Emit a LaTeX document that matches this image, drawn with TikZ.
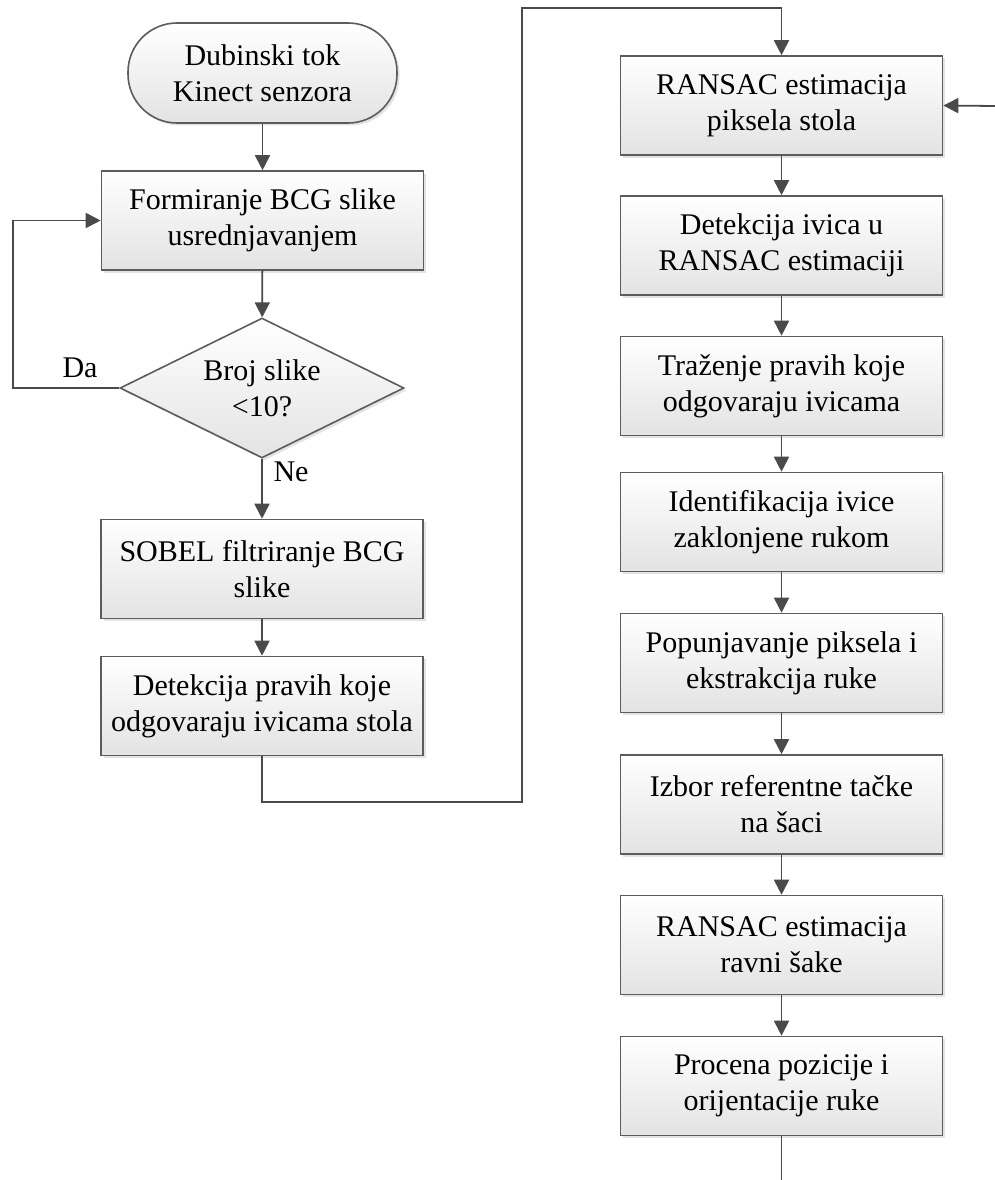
\documentclass[tikz,border=0pt]{standalone}
\usepackage{fontspec}
\setmainfont{Liberation Serif}
\usetikzlibrary{arrows.meta,shapes.geometric,shadows}
\definecolor{ln}{HTML}{4A4A4A}
\definecolor{bd}{HTML}{5C5C5C}
\begin{document}
\begin{tikzpicture}[x=1pt,y=-1pt,
  base/.style={draw=bd, line width=1.6pt, top color=white, bottom color=black!11,
    drop shadow={shadow xshift=2.5pt,shadow yshift=-2.5pt,opacity=0.22},
    align=center, inner sep=0pt, font=\fontsize{30}{36}\selectfont},
  box/.style={base, minimum width=322pt, minimum height=99pt},
  term/.style={base, rounded corners=49pt, minimum width=269pt, minimum height=100pt},
  dec/.style={base, shape=diamond, aspect=2, minimum width=284pt, minimum height=140pt},
  lbl/.style={font=\fontsize{30}{36}\selectfont, inner sep=0pt},
  conn/.style={draw=ln, line width=1.8pt},
  arr/.style={conn, -{Triangle[length=15pt,width=15pt]}}]
\fill[white] (0,0) rectangle (995,1180);
\useasboundingbox (0,0) rectangle (995,1180);

% left column
\node[term] (start) at (262.5,73) {Dubinski tok\\Kinect senzora};
\node[box] (b1) at (262.5,220.5) {Formiranje BCG slike\\usrednjavanjem};
\node[dec] (d) at (262,388) {Broj slike\\<10?};
\node[box] (b2) at (262,569) {SOBEL filtriranje BCG\\slike};
\node[box] (b3) at (262,706) {Detekcija pravih koje\\odgovaraju ivicama stola};

% right column
\node[box] (r1) at (781.5,105.5) {RANSAC estimacija\\piksela stola};
\node[box] (r2) at (781.5,245.5) {Detekcija ivica u\\RANSAC estimaciji};
\node[box] (r3) at (781.5,386) {Traženje pravih koje\\odgovaraju ivicama};
\node[box] (r4) at (781.5,522) {Identifikacija ivice\\zaklonjene rukom};
\node[box] (r5) at (781.5,663) {Popunjavanje piksela i\\ekstrakcija ruke};
\node[box] (r6) at (781.5,804.5) {Izbor referentne tačke\\na šaci};
\node[box] (r7) at (781.5,945) {RANSAC estimacija\\ravni šake};
\node[box] (r8) at (781.5,1086) {Procena pozicije i\\orijentacije ruke};

% labels
\node[lbl] (da) at (80,368) {Da};
\node[lbl] (ne) at (291,472) {Ne};

% coordinates
\coordinate (lp) at (13,388);
\coordinate (c1) at (522,802);
\coordinate (c2) at (522,8);
\coordinate (fb) at (995,106);
\coordinate (fin) at (781.5,1180);

% connectors
\draw[arr] (start) -- (b1);
\draw[arr] (b1) -- (d);
\draw[arr] (d.west) -- (lp) |- (b1.west);
\draw[arr] (d) -- (b2);
\draw[arr] (b2) -- (b3);
\draw[arr] (b3.south) |- (c1) -- (c2) -| (r1.north);
\draw[arr] (fb) -- (r1.east);
\draw[arr] (r1) -- (r2);
\draw[arr] (r2) -- (r3);
\draw[arr] (r3) -- (r4);
\draw[arr] (r4) -- (r5);
\draw[arr] (r5) -- (r6);
\draw[arr] (r6) -- (r7);
\draw[arr] (r7) -- (r8);
\draw[conn] (r8) -- (fin);
\end{tikzpicture}
\end{document}
